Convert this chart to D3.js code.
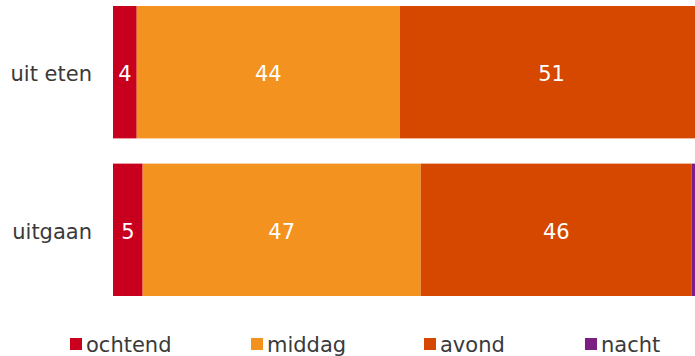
<!DOCTYPE html>
<html><head><meta charset="utf-8">
<script src="https://cdn.jsdelivr.net/npm/d3@7"></script>
<style>html,body{margin:0;padding:0;background:#fff;overflow:hidden}</style>
</head><body>
<svg id="chart" width="695" height="356"></svg>
<script>
const categories = ["uit eten", "uitgaan"];
const seriesNames = ["ochtend", "middag", "avond", "nacht"];
const ochtend = [4.0, 5.0];
const middag = [44.4, 46.9];
const avond = [51.1, 45.7];
const nacht = [0.5, 2.4];
const colors = ["#c8001e", "#f49220", "#d64800", "#7b1f84"];

const seriesValues = [ochtend, middag, avond, nacht];
const rows = categories.map((c, i) => {
  const r = {cat: c};
  seriesNames.forEach((s, j) => r[s] = seriesValues[j][i]);
  return r;
});
const stacked = d3.stack().keys(seriesNames)(rows);

const svg = d3.select("#chart");
const font = "DejaVu Sans, Verdana, sans-serif";
const x = d3.scaleLinear().domain([0, 100]).range([113, 706]);
const y = d3.scaleBand().domain(categories).range([6, 296]).paddingInner(0.16).paddingOuter(0);

const color = d3.scaleOrdinal().domain(seriesNames).range(colors);

const g = svg.append("g");
stacked.forEach(layer => {
  g.selectAll(null).data(layer).enter().append("rect")
    .attr("x", d => x(d[0]))
    .attr("y", d => y(d.data.cat))
    .attr("width", d => x(d[1]) - x(d[0]))
    .attr("height", y.bandwidth())
    .attr("fill", color(layer.key));
  g.selectAll(null).data(layer.filter(d => d[1] - d[0] >= 3)).enter().append("text")
    .attr("x", d => (x(d[0]) + x(d[1])) / 2)
    .attr("y", d => y(d.data.cat) + y.bandwidth() / 2)
    .attr("dy", "0.42em")
    .attr("text-anchor", "middle")
    .attr("fill", "#fff")
    .style("font-family", font)
    .style("font-size", "21px")
    .text(d => Math.round(d[1] - d[0]));
});

const yAxis = d3.axisLeft(y).tickSize(0).tickPadding(21);
const ya = svg.append("g").attr("transform", "translate(113,0)").call(yAxis);
ya.select(".domain").remove();
ya.selectAll("text").attr("dy", "0.42em").style("font-family", font).style("font-size", "21px").attr("fill", "#3a3a3a");

const legendX = [70, 251, 424, 585];
const lg = svg.append("g");
seriesNames.forEach((s, i) => {
  lg.append("rect").attr("x", legendX[i]).attr("y", 338).attr("width", 12).attr("height", 12).attr("fill", colors[i]);
  lg.append("text").attr("x", legendX[i] + 16).attr("y", 352)
    .style("font-family", font).style("font-size", "21px").attr("fill", "#3a3a3a").text(s);
});
</script>
</body></html>
